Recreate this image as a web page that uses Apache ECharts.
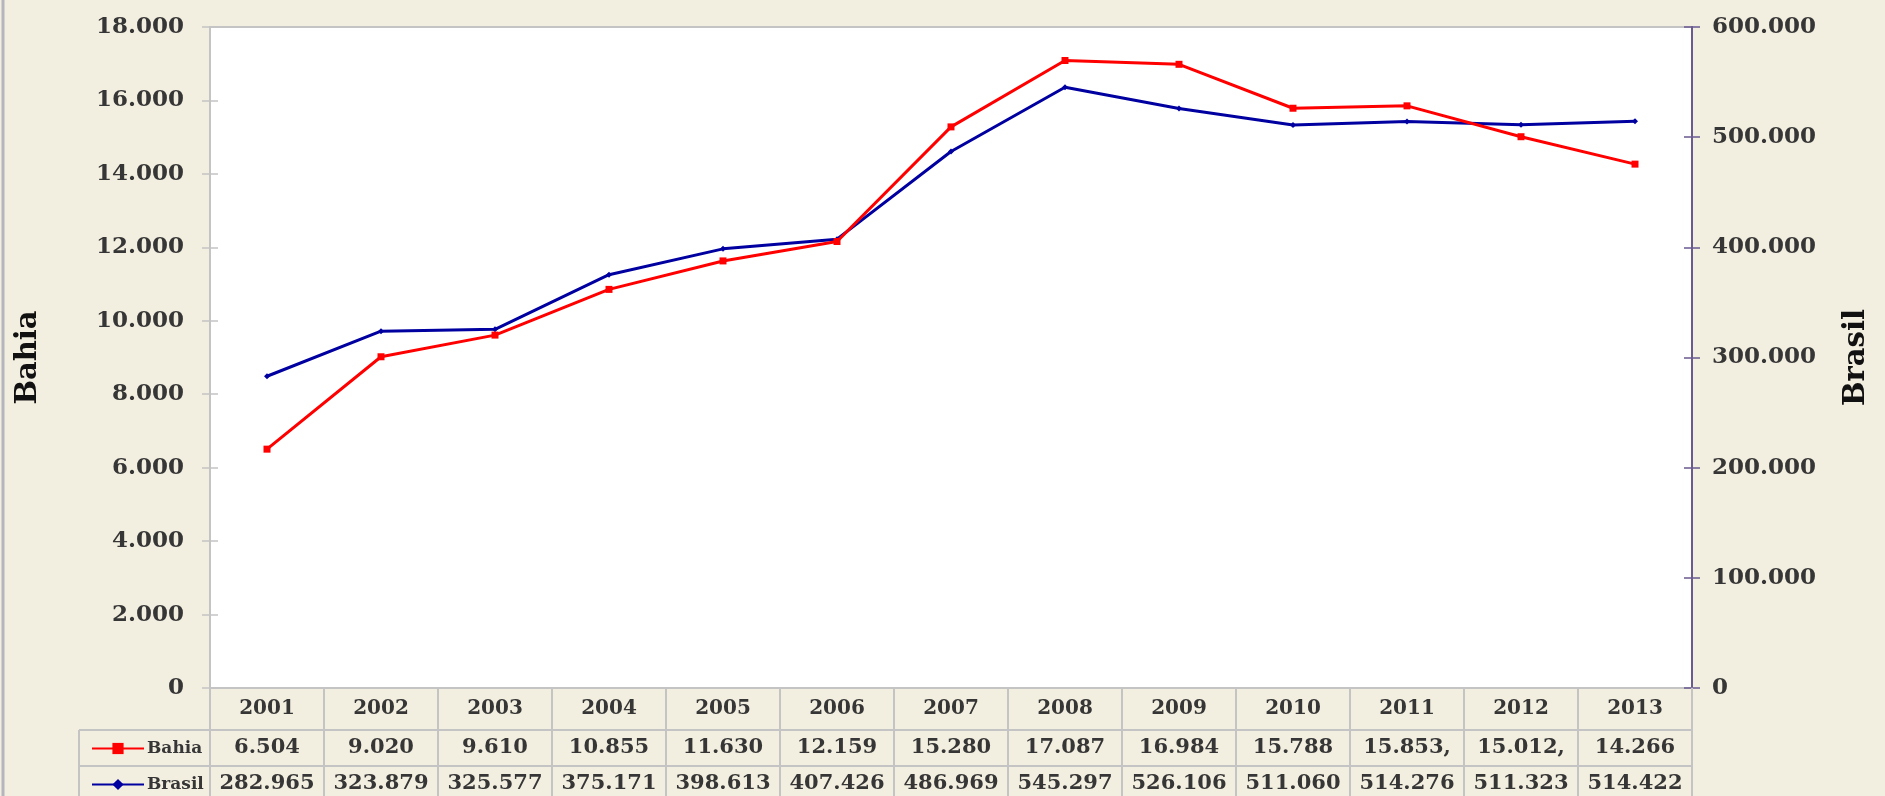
<!DOCTYPE html>
<html>
<head>
    <meta charset="UTF-8">
    <title>Bahia x Brasil</title>
    <script src="https://cdn.jsdelivr.net/npm/echarts@6/dist/echarts.min.js"></script>
    <style>
        html, body { margin: 0; padding: 0; background: #f3efe0; }
        #main { width: 1885px; height: 796px; }
    </style>
</head>
<body>
    <div id="main"></div>
    <script type="text/javascript">
        var years = ['2001', '2002', '2003', '2004', '2005', '2006', '2007', '2008', '2009', '2010', '2011', '2012', '2013'];
        var bahia = [6504, 9020, 9610, 10855, 11630, 12159, 15280, 17087, 16984, 15788, 15853, 15012, 14266];
        var brasil = [282965, 323879, 325577, 375171, 398613, 407426, 486969, 545297, 526106, 511060, 514276, 511323, 514422];
        // textos da tabela como aparecem no original
        var bahiaLabels = ['6.504', '9.020', '9.610', '10.855', '11.630', '12.159', '15.280', '17.087', '16.984', '15.788', '15.853,', '15.012,', '14.266'];
        var brasilLabels = ['282.965', '323.879', '325.577', '375.171', '398.613', '407.426', '486.969', '545.297', '526.106', '511.060', '514.276', '511.323', '514.422'];

        var FONT = '"DejaVu Serif", serif';
        var TXT = '#363636';
        var GRAY = '#c4c4c4';
        var PURPLE = '#6a5a90';

        function milhar(v) {
            return String(v).replace(/\B(?=(\d{3})+(?!\d))/g, '.');
        }

        var myChart = echarts.init(document.getElementById('main'));

        // eixos x: um para os anos e mais dois só para as linhas da tabela
        function tableAxis(offset, tickLen, labels, margin, size) {
            return {
                type: 'category',
                data: years,
                position: 'bottom',
                offset: offset,
                boundaryGap: true,
                axisLine: { show: true, onZero: false, lineStyle: { color: GRAY, width: 2 } },
                axisTick: { show: true, interval: 0, length: tickLen, lineStyle: { color: GRAY, width: 2 } },
                axisLabel: {
                    interval: 0,
                    margin: margin,
                    color: TXT,
                    fontFamily: FONT,
                    fontWeight: 'bold',
                    fontSize: size,
                    formatter: function (v, i) { return labels[i]; }
                },
                splitLine: { show: false }
            };
        }

        function legendRow(name, top) {
            return {
                orient: 'horizontal',
                left: 86,
                top: top,
                itemWidth: 52,
                itemHeight: 14,
                itemGap: 4,
                textStyle: { fontFamily: FONT, fontWeight: 'bold', fontSize: 17, color: TXT, padding: [0, 0, 0, -2] },
                data: [name]
            };
        }

        var option = {
            backgroundColor: '#f3efe0',
            animation: false,
            grid: {
                left: 210, right: 193, top: 27, bottom: 108,
                show: true,
                backgroundColor: '#ffffff',
                borderColor: GRAY,
                borderWidth: 2
            },
            legend: [legendRow('Bahia', 735), legendRow('Brasil', 771)],
            xAxis: [
                tableAxis(0, 42, years, 11, 20),
                tableAxis(42, 36, bahiaLabels, 7, 21),
                tableAxis(78, 36, brasilLabels, 7, 21)
            ],
            yAxis: [
                {
                    type: 'value',
                    name: 'Bahia',
                    nameLocation: 'middle',
                    nameGap: 167,
                    nameTextStyle: { fontFamily: FONT, fontWeight: 'bold', fontSize: 29, color: '#111' },
                    min: 0, max: 18000, interval: 2000,
                    axisLine: { show: true, lineStyle: { color: GRAY, width: 2 } },
                    axisTick: { show: true, length: 8, lineStyle: { color: GRAY, width: 1.5 } },
                    axisLabel: {
                        margin: 26, color: TXT, fontFamily: FONT, fontWeight: 'bold', fontSize: 23,
                        formatter: milhar
                    },
                    splitLine: { show: false }
                },
                {
                    type: 'value',
                    name: 'Brasil',
                    nameLocation: 'middle',
                    nameGap: 150,
                    nameRotate: 90,
                    nameTextStyle: { fontFamily: FONT, fontWeight: 'bold', fontSize: 29, color: '#111' },
                    position: 'right',
                    min: 0, max: 600000, interval: 100000,
                    axisLine: { show: true, lineStyle: { color: PURPLE, width: 2 } },
                    axisTick: { show: true, length: 8, lineStyle: { color: PURPLE, width: 1.5 } },
                    axisLabel: {
                        margin: 20, color: TXT, fontFamily: FONT, fontWeight: 'bold', fontSize: 23,
                        formatter: milhar
                    },
                    splitLine: { show: false }
                },
                // cópias só para os tracinhos que cruzam o eixo
                {
                    type: 'value', position: 'left', min: 0, max: 18000, interval: 2000,
                    axisLine: { show: false },
                    axisTick: { show: true, inside: true, length: 8, lineStyle: { color: GRAY, width: 1.5 } },
                    axisLabel: { show: false }, splitLine: { show: false }
                },
                {
                    type: 'value', position: 'right', min: 0, max: 600000, interval: 100000,
                    axisLine: { show: false },
                    axisTick: { show: true, inside: true, length: 8, lineStyle: { color: PURPLE, width: 1.5 } },
                    axisLabel: { show: false }, splitLine: { show: false }
                }
            ],
            graphic: [
                // moldura à esquerda e coluna da legenda na tabela
                { type: 'line', shape: { x1: 3, y1: 0, x2: 3, y2: 796 }, style: { stroke: '#b5b5bd', lineWidth: 3 } },
                { type: 'line', shape: { x1: 79, y1: 730, x2: 210, y2: 730 }, style: { stroke: GRAY, lineWidth: 2 } },
                { type: 'line', shape: { x1: 79, y1: 766, x2: 210, y2: 766 }, style: { stroke: GRAY, lineWidth: 2 } },
                { type: 'line', shape: { x1: 79, y1: 730, x2: 79, y2: 796 }, style: { stroke: GRAY, lineWidth: 2 } }
            ],
            series: [
                {
                    name: 'Bahia',
                    type: 'line',
                    xAxisIndex: 0,
                    yAxisIndex: 0,
                    data: bahia,
                    symbol: 'rect',
                    symbolSize: 7,
                    itemStyle: { color: '#ff0000' },
                    lineStyle: { color: '#ff0000', width: 3 },
                    z: 3
                },
                {
                    name: 'Brasil',
                    type: 'line',
                    xAxisIndex: 0,
                    yAxisIndex: 1,
                    data: brasil,
                    symbol: 'diamond',
                    symbolSize: 6,
                    itemStyle: { color: '#0000a0' },
                    lineStyle: { color: '#0000a0', width: 3 },
                    z: 2
                }
            ]
        };

        myChart.setOption(option);
    </script>
</body>
</html>
